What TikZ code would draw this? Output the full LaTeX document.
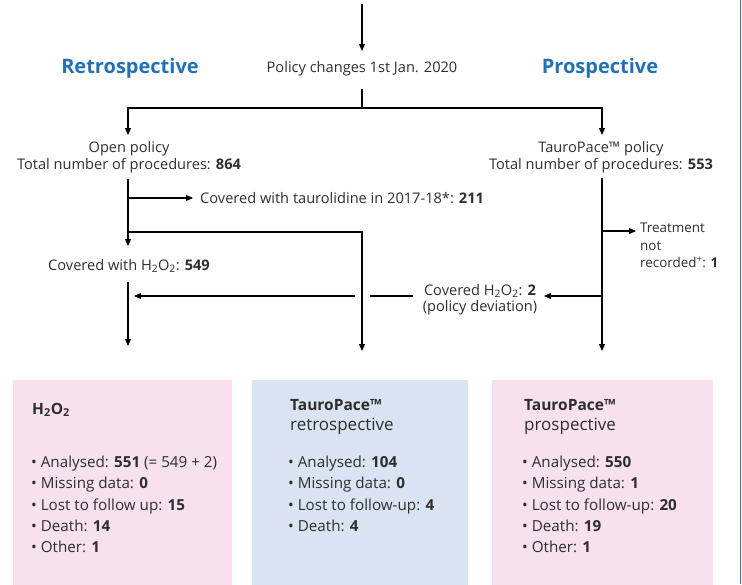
\documentclass[tikz,border=0pt]{standalone}
\usepackage{fontspec}
\setmainfont{Open Sans}
\usetikzlibrary{arrows.meta}
\definecolor{txt}{HTML}{2E2E2E}
\definecolor{headblue}{HTML}{1F72BA}
\definecolor{pinkbox}{HTML}{F6E1EC}
\definecolor{bluebox}{HTML}{DAE3F1}
\definecolor{edgeblue}{HTML}{3A6FB0}
\newcommand{\hto}{H\textsubscript{2}O\textsubscript{2}}
\begin{document}
\begin{tikzpicture}[x=1pt,y=-1pt,
  every node/.style={font=\fontsize{14.6}{16}\selectfont, text=txt, inner sep=0pt},
  ln/.style={line width=1.2pt, draw=black},
  arr/.style={ln, -{Triangle[length=7pt,width=6pt]}},
  head/.style={font=\fontsize{20}{22}\selectfont\bfseries, text=headblue},
  boxbg/.style={anchor=north west, minimum width=219pt, minimum height=210pt, draw=none},
  bl/.style={anchor=base west, font=\fontsize{15.2}{18}\selectfont},
  ttl/.style={anchor=base west, font=\fontsize{15.5}{17}\selectfont\bfseries},
  sub/.style={anchor=base west, font=\fontsize{17}{19}\selectfont}]
\useasboundingbox (0,0) rectangle (742,584);
\draw[edgeblue, line width=0.8pt] (740.5,0) -- (740.5,584);

% top
\coordinate (t0) at (362,4);
\coordinate (t1) at (362,51);
\draw[arr] (t0) -- (t1);
\node (pc) at (362,69) {Policy changes 1st Jan. 2020};
\node[head] (retro) at (130,68) {Retrospective};
\node[head] (prosp) at (600,68) {Prospective};

% split
\coordinate (s0) at (362,89);
\coordinate (s1) at (362,108);
\coordinate (sl) at (128,108);
\coordinate (sr) at (602,108);
\coordinate (sla) at (128,135);
\coordinate (sra) at (602,135);
\draw[ln] (s0) -- (s1);
\draw[arr] (s1) -- (sl) -- (sla);
\draw[arr] (s1) -- (sr) -- (sra);

\node[align=center, font=\fontsize{14.6}{16.5}\selectfont] (open) at (129,157) {Open policy\\Total number of procedures: \textbf{864}};
\node[align=center, font=\fontsize{14.6}{16.5}\selectfont] (tpp) at (601,157) {TauroPace™ policy\\Total number of procedures: \textbf{553}};

% left branch
\coordinate (l0) at (128,179);
\coordinate (lb1) at (128,198);
\coordinate (lb1e) at (193,198);
\coordinate (lb2) at (128,232);
\coordinate (lb2c) at (362,232);
\coordinate (lb2e) at (362,351);
\coordinate (l1) at (128,246);
\draw[ln] (l0) -- (lb2);
\draw[arr] (lb2) -- (l1);
\draw[arr] (lb1) -- (lb1e);
\node[anchor=west] (taur) at (200,198) {Covered with taurolidine in 2017-18*: \textbf{211}};
\draw[arr] (lb2) -- (lb2c) -- (lb2e);

\node (h549) at (129,266) {Covered with \hto: \textbf{549}};
\coordinate (l2) at (128,282);
\coordinate (l3) at (128,346);
\draw[arr] (l2) -- (l3);

% right branch
\coordinate (r0) at (602,178);
\coordinate (r1) at (602,351);
\coordinate (rb1) at (602,231);
\coordinate (rb1e) at (636,231);
\coordinate (rb2) at (602,296);
\draw[arr] (r0) -- (r1);
\draw[arr] (rb1) -- (rb1e);
\node[anchor=north west, align=left, font=\fontsize{13.4}{17.5}\selectfont] (trn) at (640,223) {Treatment\\not\\recorded\textsuperscript{+}: \textbf{1}};

\node[align=center, font=\fontsize{14.6}{16.5}\selectfont] (dev) at (480,299.5) {Covered \hto: \textbf{2}\\(policy deviation)};
\coordinate (d1) at (544,296);
\coordinate (d2) at (413,296);
\coordinate (d3) at (370,296);
\coordinate (d4) at (355,296);
\coordinate (d5) at (134,296);
\draw[arr] (rb2) -- (d1);
\draw[ln] (d2) -- (d3);
\draw[arr] (d4) -- (d5);

% boxes
\node[boxbg, fill=pinkbox, minimum width=219pt] (b1) at (13,380) {};
\node[boxbg, fill=bluebox, minimum width=216pt] (b2) at (252,380) {};
\node[boxbg, fill=pinkbox, minimum width=221pt] (b3) at (492,380) {};

\node[ttl] (b1t) at (32,414) {\hto};
\node[bl] (b1a) at (31,467) {• Analysed: \textbf{551} (= 549 + 2)};
\node[bl] (b1b) at (31,488.5) {• Missing data: \textbf{0}};
\node[bl] (b1c) at (31,510) {• Lost to follow up: \textbf{15}};
\node[bl] (b1d) at (31,531) {• Death: \textbf{14}};
\node[bl] (b1e) at (31,552) {• Other: \textbf{1}};

\node[ttl] (b2t) at (290,410) {TauroPace™};
\node[sub] (b2s) at (290,430) {retrospective};
\node[bl] (b2a) at (288,467) {• Analysed: \textbf{104}};
\node[bl] (b2b) at (288,488.5) {• Missing data: \textbf{0}};
\node[bl] (b2c) at (288,510) {• Lost to follow-up: \textbf{4}};
\node[bl] (b2d) at (288,531) {• Death: \textbf{4}};

\node[ttl] (b3t) at (524,410) {TauroPace™};
\node[sub] (b3s) at (524,430) {prospective};
\node[bl] (b3a) at (522,467) {• Analysed: \textbf{550}};
\node[bl] (b3b) at (522,488.5) {• Missing data: \textbf{1}};
\node[bl] (b3c) at (522,510) {• Lost to follow-up: \textbf{20}};
\node[bl] (b3d) at (522,531) {• Death: \textbf{19}};
\node[bl] (b3e) at (522,552) {• Other: \textbf{1}};
\end{tikzpicture}
\end{document}
